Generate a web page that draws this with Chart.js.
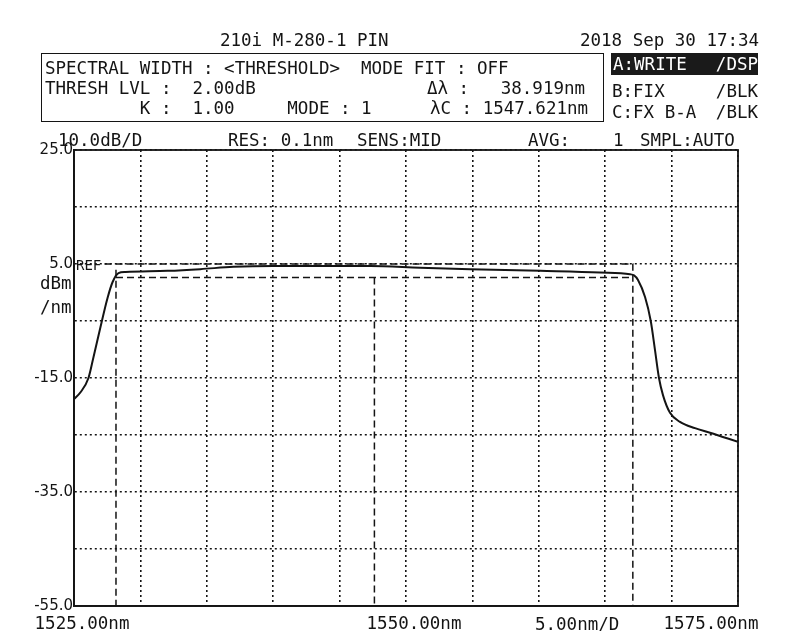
<!DOCTYPE html>
<html>
<head>
<meta charset="utf-8">
<script src="https://cdn.jsdelivr.net/npm/chart.js@4.4.1/dist/chart.umd.min.js"></script>
<style>
  body { margin: 0; background: #fff; }
  #wrap { position: relative; width: 788px; height: 631px; overflow: hidden; font-family: 'DejaVu Sans Mono', monospace; color: #141414; }
  #wrap canvas { position: absolute; left: 0; top: 0; }
  .t { position: absolute; white-space: pre; font-size: 17.5px; line-height: 17.5px; }
  .s { position: absolute; white-space: pre; font-size: 14px; line-height: 14px; }
  .box { position: absolute; left: 41px; top: 53px; width: 561px; height: 67px; border: 1.6px solid #141414; }
  .hl { position: absolute; left: 611px; top: 53px; width: 147px; height: 22px; background: #1a1a1a; }
  .w { color: #fff; }
  .r { text-align: right; }
</style>
</head>
<body>
<div id="wrap">
  <canvas id="osaChart" width="788" height="631"></canvas>

  <div class="t" style="left:220px;top:32px">210i M-280-1 PIN</div>
  <div class="t" style="left:580px;top:32px">2018 Sep 30 17:34</div>

  <div class="box"></div>
  <div class="t" style="left:45px;top:60px">SPECTRAL WIDTH : &lt;THRESHOLD&gt;  MODE FIT : OFF</div>
  <div class="t" style="left:45px;top:80px">THRESH LVL :  2.00dB</div>
  <div class="t" style="left:427px;top:80px">Δλ :   38.919nm</div>
  <div class="t" style="left:45px;top:100px">         K :  1.00     MODE : 1</div>
  <div class="t" style="left:430px;top:100px">λC : 1547.621nm</div>

  <div class="hl"></div>
  <div class="t w" style="left:613px;top:56px">A:WRITE</div>
  <div class="t w r" style="left:660px;width:98px;top:56px">/DSP</div>
  <div class="t" style="left:612px;top:83px">B:FIX</div>
  <div class="t r" style="left:660px;width:98px;top:83px">/BLK</div>
  <div class="t" style="left:612px;top:104px">C:FX B-A</div>
  <div class="t r" style="left:660px;width:98px;top:104px">/BLK</div>

  <div class="t" style="left:58px;top:132px">10.0dB/D</div>
  <div class="t" style="left:228px;top:132px">RES: 0.1nm</div>
  <div class="t" style="left:357px;top:132px">SENS:MID</div>
  <div class="t" style="left:528px;top:132px">AVG:</div>
  <div class="t" style="left:613px;top:132px">1</div>
  <div class="t" style="left:640px;top:132px">SMPL:AUTO</div>

  <div class="s" style="left:76px;top:258px">REF</div>
  <div class="t" style="left:40px;top:275px">dBm</div>
  <div class="t" style="left:40px;top:299px">/nm</div>
  <div class="t" style="left:535px;top:616px">5.00nm/D</div>
</div>

<script>
// ── Trace data ──
const wavelengths = [1525.00, 1525.49, 1526.09, 1526.47, 1526.99, 1527.52, 1527.90, 1528.35, 1528.88,
  1532.04, 1534.52, 1537.00, 1540.01, 1547.31, 1551.07, 1554.83, 1560.10, 1564.61, 1566.87, 1567.17,
  1567.47, 1568.00, 1568.43, 1568.75, 1569.05, 1569.35, 1569.88, 1570.63, 1571.76, 1572.89, 1575.00];
const powerDbm = [-18.7, -17.5, -15.0, -11.3, -6.1, -1.0, 1.8, 3.4, 3.6,
  3.8, 4.1, 4.5, 4.65, 4.65, 4.35, 4.1, 3.8, 3.5, 3.2, 3.0,
  2.2, -0.8, -5.0, -10.1, -15.0, -18.0, -21.1, -22.7, -23.8, -24.6, -26.2];

// ── Axis ticks ──
const xTicks = [1525, 1530, 1535, 1540, 1545, 1550, 1555, 1560, 1565, 1570, 1575];
const xLabelValues = [1525, 1550, 1575];
const xLabelTexts = ['1525.00nm', '1550.00nm', '1575.00nm'];
const yTicks = [25, 15, 5, -5, -15, -25, -35, -45, -55];
const yLabelTicks = [25, 5, -15, -35, -55];

// ── Marker readouts ──
const refLevel = 5.0;
const threshDb = 2.00;
const peakLevel = 4.65;
const lambdaC = 1547.621;
const deltaLambda = 38.919;
const refLineStart = 1527.3;
const leftMarkerTop = 4.0;

const lamLeft = lambdaC - deltaLambda / 2;
const lamRight = lambdaC + deltaLambda / 2;
const threshLevel = peakLevel - threshDb;
const yMin = -55, yMax = 25;

const ink = '#141414';
const dashStyle = { borderColor: ink, borderWidth: 1.5, borderDash: [7, 4], pointRadius: 0, fill: false, tension: 0 };

// ── Plot frame + x labels ──
const framePlugin = {
  id: 'frame',
  beforeDatasetsDraw(chart) {
    const { ctx, chartArea: a } = chart;
    ctx.save();
    ctx.strokeStyle = ink;
    ctx.lineWidth = 1.8;
    ctx.strokeRect(a.left, a.top, a.right - a.left, a.bottom - a.top);
    ctx.restore();
  },
  afterDraw(chart) {
    const { ctx } = chart;
    const xs = chart.scales.x;
    const offsets = [8, 8, -27];
    ctx.save();
    ctx.fillStyle = ink;
    ctx.font = '17.5px "DejaVu Sans Mono"';
    ctx.textAlign = 'center';
    ctx.textBaseline = 'middle';
    xLabelValues.forEach((v, i) => {
      ctx.fillText(xLabelTexts[i], xs.getPixelForValue(v) + offsets[i], 624);
    });
    ctx.restore();
  }
};

new Chart(document.getElementById('osaChart'), {
  type: 'line',
  data: {
    datasets: [
      {
        data: wavelengths.map((w, i) => ({ x: w, y: powerDbm[i] })),
        borderColor: ink,
        borderWidth: 2,
        pointRadius: 0,
        fill: false,
        cubicInterpolationMode: 'monotone',
      },
      { ...dashStyle, data: [{ x: refLineStart, y: refLevel }, { x: lamRight, y: refLevel }, { x: lamRight, y: yMin }] },
      { ...dashStyle, data: [{ x: lamLeft, y: threshLevel }, { x: lamRight, y: threshLevel }] },
      { ...dashStyle, data: [{ x: lamLeft, y: leftMarkerTop }, { x: lamLeft, y: yMin }] },
      { ...dashStyle, data: [{ x: lambdaC, y: threshLevel }, { x: lambdaC, y: yMin }] },
    ]
  },
  options: {
    responsive: false,
    animation: false,
    layout: { padding: { top: 150, right: 50, bottom: 0, left: 0 } },
    plugins: { legend: { display: false }, tooltip: { enabled: false } },
    scales: {
      x: {
        type: 'linear',
        min: 1525,
        max: 1575,
        afterBuildTicks: s => { s.ticks = xTicks.map(v => ({ value: v })); },
        afterFit: s => { s.height = 25; },
        ticks: { display: false },
        grid: { color: ink, lineWidth: 1.6, drawTicks: false },
        border: { display: true, color: ink, width: 1.8, dash: [2, 3] }
      },
      y: {
        min: yMin,
        max: yMax,
        afterBuildTicks: s => { s.ticks = yTicks.map(v => ({ value: v })); },
        afterFit: s => { s.width = 74; },
        ticks: {
          color: ink,
          padding: 1,
          font: { family: 'DejaVu Sans', size: 15 },
          callback: v => yLabelTicks.includes(v) ? v.toFixed(1) : ''
        },
        grid: { color: ink, lineWidth: 1.6, drawTicks: false },
        border: { display: true, color: ink, width: 1.8, dash: [2, 3] }
      }
    }
  },
  plugins: [framePlugin]
});
</script>
</body>
</html>
